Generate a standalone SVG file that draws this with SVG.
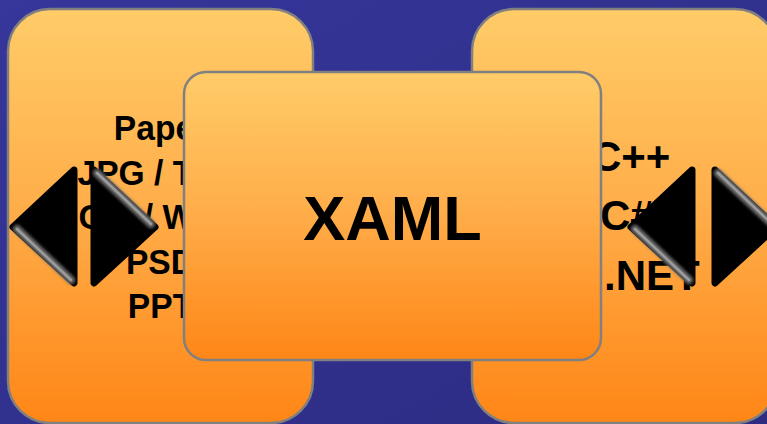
<svg xmlns="http://www.w3.org/2000/svg" width="767" height="424" viewBox="0 0 767 424">
  <defs>
    <linearGradient id="bg" x1="0" y1="0" x2="1" y2="1">
      <stop offset="0" stop-color="#36369b"/>
      <stop offset="1" stop-color="#2c2c82"/>
    </linearGradient>
    <linearGradient id="box" x1="0" y1="0" x2="0" y2="1">
      <stop offset="0" stop-color="#ffcc68"/>
      <stop offset="0.5" stop-color="#ffac48"/>
      <stop offset="1" stop-color="#ff8616"/>
    </linearGradient>
    <filter id="soft" x="-20%" y="-20%" width="140%" height="140%">
      <feGaussianBlur stdDeviation="0.7"/>
    </filter>
    <filter id="glow" x="-20%" y="-20%" width="140%" height="140%">
      <feGaussianBlur stdDeviation="1.4"/>
    </filter>
    <style>
      .box { fill: url(#box); stroke: #808080; stroke-width: 2.5; }
      .t { font-family: "Liberation Sans", Arial, sans-serif; font-weight: bold; fill: #000; }
      .lt { font-size: 35px; text-anchor: middle; }
      .rt { font-size: 42px; }
      .big { font-size: 63px; text-anchor: middle; }
      .arr { fill: #000; stroke: #000; stroke-width: 7; stroke-linejoin: round; filter: url(#soft); }
      .hl { stroke: #6a6a6a; stroke-width: 8; stroke-linecap: round; fill: none; filter: url(#glow); }
      .hl2 { stroke: #9c9c9c; stroke-width: 2.5; stroke-linecap: round; fill: none; filter: url(#soft); }
    </style>
  </defs>

  <rect x="0" y="0" width="767" height="424" fill="url(#bg)"/>

  <g id="node-sources">
    <rect class="box" x="8" y="9" width="305" height="414" rx="42" ry="42"/>
    <g transform="translate(160.5 0) scale(0.96 1)">
      <text class="t lt" x="0" y="140">Paper</text>
      <text class="t lt" x="0" y="185">JPG / TIFF</text>
      <text class="t lt" x="0" y="229">GIF / WMF</text>
      <text class="t lt" x="0" y="274">PSD</text>
      <text class="t lt" x="0" y="318">PPT</text>
    </g>
  </g>

  <g id="node-code">
    <rect class="box" x="472" y="9" width="305" height="414" rx="42" ry="42"/>
    <text class="t rt" x="591" y="171">C++</text>
    <text class="t rt" x="600" y="230">C#</text>
    <text class="t rt" x="604" y="290">.NET</text>
  </g>

  <g id="node-xaml">
    <rect class="box" x="184" y="72" width="417" height="288" rx="22" ry="22"/>
    <text class="t big" x="392.5" y="240">XAML</text>
  </g>

  <g id="connectors">
    <g id="arrows-left">
      <polygon class="arr" points="74,170 13,227 74,283"/>
      <line class="hl" x1="17" y1="229" x2="71" y2="280"/>
      <line class="hl2" x1="17" y1="229" x2="71" y2="280"/>
      <polygon class="arr" points="94,170 155,227 94,283"/>
      <line class="hl" x1="97" y1="173" x2="151" y2="224"/>
      <line class="hl2" x1="97" y1="173" x2="151" y2="224"/>
    </g>
    <g id="arrows-right">
      <polygon class="arr" points="692,170 631,227 692,283"/>
      <line class="hl" x1="635" y1="229" x2="689" y2="280"/>
      <line class="hl2" x1="635" y1="229" x2="689" y2="280"/>
      <polygon class="arr" points="715,170 776,227 715,283"/>
      <line class="hl" x1="718" y1="173" x2="772" y2="224"/>
      <line class="hl2" x1="718" y1="173" x2="772" y2="224"/>
    </g>
  </g>
</svg>
